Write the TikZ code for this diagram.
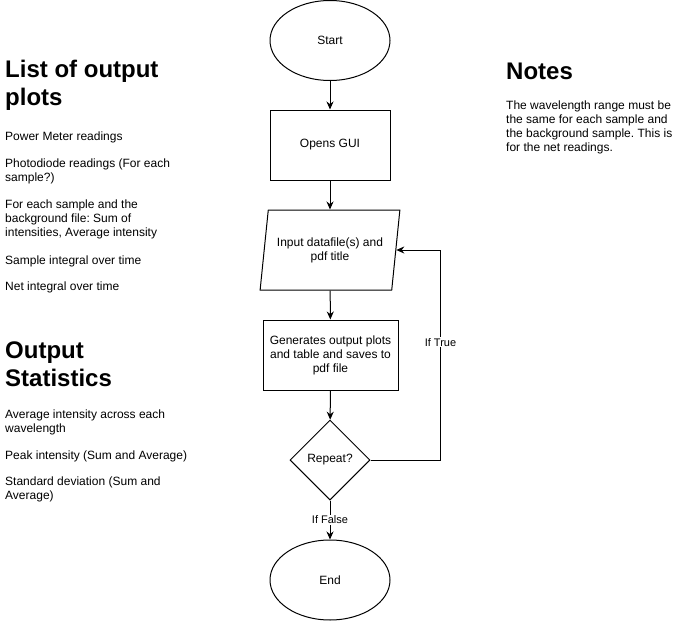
\documentclass[tikz,border=0pt]{standalone}
\usepackage{fontspec}
\setmainfont{Liberation Sans}
\usetikzlibrary{shapes.geometric,arrows.meta}

\tikzset{
  flow/.style={draw, line width=1pt, font=\fontsize{12}{14}\selectfont, align=center, inner sep=2pt},
  terminal/.style={flow, ellipse, minimum width=120pt, minimum height=80pt},
  process/.style={flow, rectangle, minimum height=70pt},
  io/.style={flow, trapezium, trapezium left angle=76, trapezium right angle=104,
    trapezium stretches=true, minimum width=140pt, minimum height=80pt},
  decision/.style={flow, diamond, aspect=1, minimum width=80pt, minimum height=80pt},
  arrow/.style={draw, line width=1pt, -{Stealth[length=8pt,width=7pt]}},
  edgelabel/.style={fill=white, inner sep=1pt, font=\fontsize{11}{13}\selectfont},
  heading/.style={anchor=north west, inner sep=0pt, align=left,
    font=\fontsize{24}{28}\selectfont\bfseries, execute at begin node=\strut},
  para/.style={anchor=north west, inner sep=0pt, align=left,
    font=\fontsize{12}{14}\selectfont, execute at begin node=\strut},
}

\begin{document}
\frenchspacing
\begin{tikzpicture}[x=1pt, y=-1pt]
            \useasboundingbox (0,0) rectangle (681,621);

            % flow chart
            \node[terminal] (start) at (330,40.5) {Start};
            \node[process, minimum width=120pt] (gui) at (330,145) {Opens GUI};
            \node[io] (input) at (330,250) {Input datafile(s) and\\pdf title};
            \node[process, minimum width=135pt] (gen) at (330.5,355) {Generates output plots\\and table and saves to\\pdf file};
            \node[decision] (repeat) at (330,460) {Repeat?};
            \node[terminal] (end) at (330,580) {End};

            \draw[arrow] (start) -- (gui);
            \draw[arrow] (gui) -- (input);
            \draw[arrow] (input) -- (gen);
            \draw[arrow] (gen) -- (repeat);
            \draw[arrow] (repeat) -- node[edgelabel] {If False} (end);
            \draw[arrow] (repeat.east) -- ++(70,0) |- node[edgelabel, pos=0.28] {If True} (input.east);

            % left column
            \node[heading] (plots) at (5,60.4) {List of output\\plots};
            \node[para] (pm) at (5,130.2) {Power Meter readings};
            \node[para] (pd) at (5,158.2) {Photodiode readings (For each\\sample?)};
            \node[para] (bg) at (5,199.7) {For each sample and the\\background file: Sum of\\intensities, Average intensity};
            \node[para] (si) at (5,254.7) {Sample integral over time};
            \node[para] (ni) at (5,280.7) {Net integral over time};

            \node[heading] (stats) at (5,341.2) {Output\\Statistics};
            \node[para] (ai) at (5,409.7) {Average intensity across each\\wavelength};
            \node[para] (pk) at (5,449.7) {Peak intensity (Sum and Average)};
            \node[para] (sd) at (5,476.7) {Standard deviation (Sum and\\Average)};

            % right column
            \node[heading] (notes) at (506,59.9) {Notes};
            \node[para] (range) at (506,100.2) {The wavelength range must be\\the same for each sample and\\the background sample. This is\\for the net readings.};
\end{tikzpicture}
\end{document}
